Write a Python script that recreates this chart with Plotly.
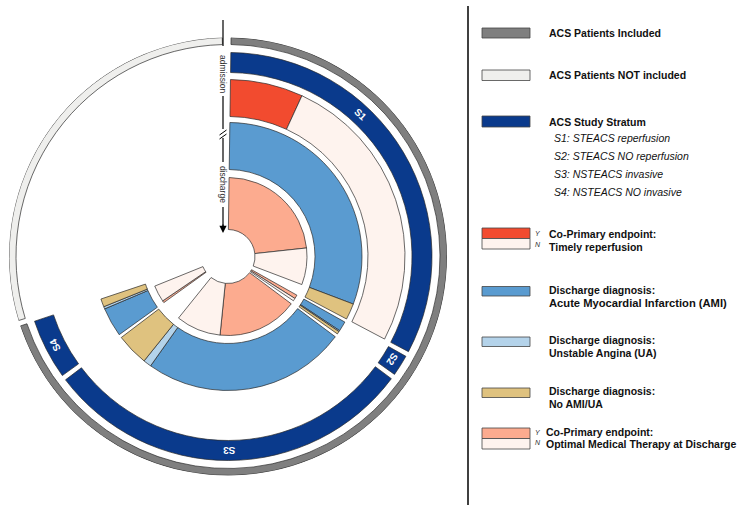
import math
import plotly.graph_objects as go

W, H = 740, 513

# ---------------- data (arc sizes, in patients scaled to degrees) ----------------
strata = ["S1", "S2", "S3", "S4"]
stratum_n = [117.0, 6.0, 106.0, 17.2]
not_included_n = 105.5

reperf_yes = [23.9, 0.0, 0.0, 0.0]
reperf_no = [93.1, 0.0, 0.0, 0.0]

dx_ami = [110.0, 4.3, 88.5, 12.7]
dx_ua = [0.0, 0.5, 3.5, 1.0]
dx_none = [7.0, 1.2, 14.0, 3.5]

omt_yes = [83.0, 2.8, 59.0, 1.5]
omt_no = [27.0, 2.0, 33.0, 12.2]

legend_labels = [
    ["ACS Patients Included"],
    ["ACS Patients NOT included"],
    ["ACS Study Stratum"],
    ["Co-Primary endpoint:", "Timely reperfusion"],
    ["Discharge diagnosis:", "Acute Myocardial Infarction (AMI)"],
    ["Discharge diagnosis:", "Unstable Angina (UA)"],
    ["Discharge diagnosis:", "No AMI/UA"],
    ["Co-Primary endpoint:", "Optimal Medical Therapy at Discharge"],
]
stratum_desc = ["S1: STEACS reperfusion", "S2: STEACS NO reperfusion",
                "S3: NSTEACS invasive", "S4: NSTEACS NO invasive"]

# ---------------- styling / layout constants ----------------
C_INC = "#7f7f7f"
C_NOT = "#efefed"
C_NAVY = "#0a3a8c"
C_RED = "#f24b2f"
C_PINK = "#fef3ee"
C_AMI = "#5a9bd0"
C_UA = "#b4d3ea"
C_TAN = "#dfc27f"
C_SAL = "#fcab8f"
EDGE = "#2a2a2a"

CX, CY, R = 228.0, 256.5, 219.0   # px, center from top-left
START, GAP = 0.8, 1.5
RING_INC = (212, 219)
RING_STR = (184, 204)
RING_REP = (140, 177)
RING_DX = (87, 134)
RING_OMT = (27, 79)
FONT = "Liberation Sans"

fig = go.Figure()


def arcs(starts, sizes, ring, color, lw=0.7):
    th, wd = [], []
    for s, z in zip(starts, sizes):
        if z > 0:
            th.append(s + z / 2.0)
            wd.append(z)
    if not th:
        return
    fig.add_trace(go.Barpolar(
        theta=th, width=wd, r=[ring[1] - ring[0]] * len(th), base=[ring[0]] * len(th),
        marker=dict(color=color, line=dict(color=EDGE, width=lw)),
        showlegend=False, hoverinfo="skip"))


# stratum start positions
s_start = []
pos = START
for n in stratum_n:
    s_start.append(pos)
    pos += n + GAP
inc_end = s_start[-1] + stratum_n[-1]

# outer ring: included / not included
arcs([START], [inc_end - START], RING_INC, C_INC)
arcs([inc_end + GAP], [not_included_n], RING_INC, C_NOT)

# strata ring
arcs(s_start, stratum_n, RING_STR, C_NAVY)

# reperfusion ring
arcs(s_start, reperf_yes, RING_REP, C_RED)
arcs([s + y for s, y in zip(s_start, reperf_yes)], reperf_no, RING_REP, C_PINK)

# discharge diagnosis ring
arcs(s_start, dx_ami, RING_DX, C_AMI)
arcs([s + a for s, a in zip(s_start, dx_ami)], dx_ua, RING_DX, C_UA)
arcs([s + a + u for s, a, u in zip(s_start, dx_ami, dx_ua)], dx_none, RING_DX, C_TAN)

# optimal medical therapy ring
arcs(s_start, omt_yes, RING_OMT, C_SAL)
arcs([s + y for s, y in zip(s_start, omt_yes)], omt_no, RING_OMT, C_PINK)

fig.update_layout(
    width=W, height=H, margin=dict(l=0, r=0, t=0, b=0),
    paper_bgcolor="white", plot_bgcolor="white",
    polar=dict(
        domain=dict(x=[(CX - R) / W, (CX + R) / W],
                    y=[(H - CY - R) / H, (H - CY + R) / H]),
        bgcolor="rgba(0,0,0,0)",
        radialaxis=dict(range=[0, R], visible=False, showgrid=False),
        angularaxis=dict(rotation=90, direction="clockwise", visible=False,
                         showgrid=False, thetaunit="degrees"),
        hole=0,
    ),
    showlegend=False,
)


def px(x):
    return x / W


def py(y):
    return 1 - y / H


shapes = []
annotations = []

# stratum labels
label_theta = [43.0, None, None, None]
r_lab = (RING_STR[0] + RING_STR[1]) / 2
for i, name in enumerate(strata):
    t = label_theta[i] if label_theta[i] is not None else s_start[i] + stratum_n[i] / 2
    x = CX + r_lab * math.sin(math.radians(t))
    y = CY - r_lab * math.cos(math.radians(t))
    annotations.append(dict(x=px(x), y=py(y), xref="paper", yref="paper", text=f"<b>{name}</b>",
                            showarrow=False, textangle=t,
                            font=dict(family=FONT, size=10, color="white"),
                            xanchor="center", yanchor="middle"))

# admission / discharge axis
AX = 223.0
line_style = dict(color="black", width=1.2)
for y0, y1 in [(20, 46), (96, 129), (138, 162), (207, 226)]:
    shapes.append(dict(type="line", xref="paper", yref="paper", x0=px(AX), x1=px(AX),
                       y0=py(y0), y1=py(y1), line=line_style))
for yb in [132.5, 136.5]:
    shapes.append(dict(type="line", xref="paper", yref="paper", x0=px(AX - 3.5), x1=px(AX + 3.5),
                       y0=py(yb + 2.5), y1=py(yb - 2.5), line=dict(color="black", width=1)))
annotations.append(dict(x=px(AX), y=py(233), xref="paper", yref="paper", text="",
                        showarrow=True, ax=0, ay=-10, arrowhead=2, arrowsize=1.2,
                        arrowwidth=1.2, arrowcolor="black"))
for txt, yc in [("admission", 75), ("discharge", 185)]:
    annotations.append(dict(x=px(AX), y=py(yc), xref="paper", yref="paper", text=txt,
                            showarrow=False, textangle=90,
                            font=dict(family=FONT, size=8.5, color="#333"),
                            xanchor="center", yanchor="middle"))

# divider
shapes.append(dict(type="line", xref="paper", yref="paper", x0=px(468), x1=px(468),
                   y0=py(6), y1=py(505), line=dict(color="black", width=1.5)))

# legend
SX0, SX1 = 482, 530
swatches = [
    [(28, 38, C_INC)],
    [(70, 80.5, C_NOT)],
    [(116, 127, C_NAVY)],
    [(228, 238.5, C_RED), (238.5, 249, C_PINK)],
    [(286.5, 296, C_AMI)],
    [(337, 346.5, C_UA)],
    [(388, 397.5, C_TAN)],
    [(428, 438.5, C_SAL), (438.5, 449, C_PINK)],
]
for sw in swatches:
    for y0, y1, col in sw:
        shapes.append(dict(type="rect", xref="paper", yref="paper", x0=px(SX0), x1=px(SX1),
                           y0=py(y0), y1=py(y1), fillcolor=col,
                           line=dict(color="#444", width=0.8)))

text_pos = [
    (547, [32.5]),
    (547, [75]),
    (547, [122]),
    (547, [234, 247]),
    (547, [289.5, 303]),
    (547, [340, 353]),
    (547, [391, 404]),
    (544, [432, 444]),
]
for (x, ys), lines in zip(text_pos, legend_labels):
    for y, t in zip(ys, lines):
        size = 11.2 if t.startswith("Acute") else 10.5
        annotations.append(dict(x=px(x), y=py(y), xref="paper", yref="paper", text=f"<b>{t}</b>",
                                showarrow=False, xanchor="left", yanchor="middle",
                                font=dict(family=FONT, size=size, color="#111")))
for i, t in enumerate(stratum_desc):
    annotations.append(dict(x=px(552), y=py(138 + 18 * i), xref="paper", yref="paper",
                            text=f"<i>{t}</i>", showarrow=False, xanchor="left", yanchor="middle",
                            font=dict(family=FONT, size=10.5, color="#111")))
for t, y in [("Y", 233.5), ("N", 244.5), ("Y", 432), ("N", 442.5)]:
    annotations.append(dict(x=px(533), y=py(y), xref="paper", yref="paper",
                            text=f"<i>{t}</i>", showarrow=False, xanchor="left", yanchor="middle",
                            font=dict(family=FONT, size=7, color="#333")))

fig.update_layout(shapes=shapes, annotations=annotations)
fig.write_html("out.html", config={"displayModeBar": False},
               post_script="document.body.style.margin='0px';document.body.style.padding='0px';")
